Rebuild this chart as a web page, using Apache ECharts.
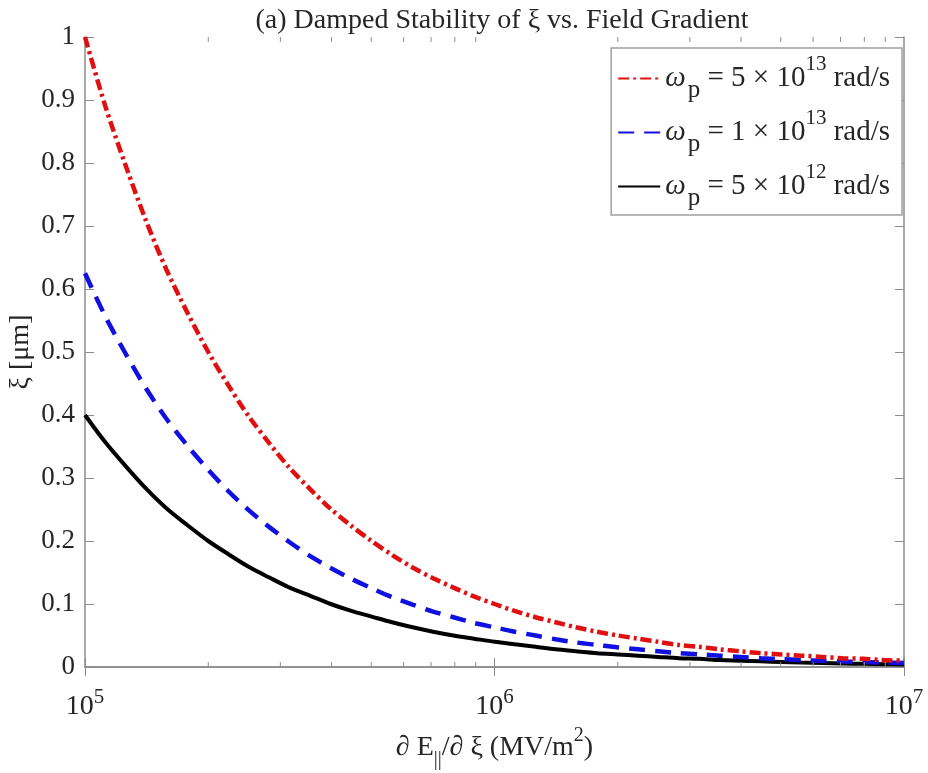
<!DOCTYPE html>
<html><head><meta charset="utf-8">
<script src="https://cdn.jsdelivr.net/npm/echarts@6/dist/echarts.min.js"></script>
<style>html,body{margin:0;padding:0;background:#fff}#c{width:928px;height:773px}</style>
</head><body><div id="c"></div>
<script>
// x samples (field gradient, MV/m^2)
const xVals = [1.0e5,1.12e5,1.26e5,1.41e5,1.58e5,1.78e5,2.0e5,2.24e5,2.51e5,2.82e5,3.16e5,3.55e5,3.98e5,4.47e5,5.01e5,5.62e5,6.31e5,7.08e5,7.94e5,8.91e5,
               1.0e6,1.12e6,1.26e6,1.41e6,1.58e6,1.78e6,2.0e6,2.24e6,2.51e6,2.82e6,3.16e6,3.55e6,3.98e6,4.47e6,5.01e6,5.62e6,6.31e6,7.08e6,7.94e6,8.91e6,1.0e7];
// xi [um]
const red   = [1.0,0.891,0.794,0.708,0.631,0.562,0.50,0.447,0.398,0.355,0.316,0.282,0.251,0.224,0.200,0.178,0.158,0.141,0.126,0.112,
               0.100,0.089,0.079,0.071,0.063,0.056,0.050,0.045,0.040,0.035,0.032,0.028,0.025,0.022,0.020,0.018,0.016,0.014,0.013,0.011,0.010];
const blue  = [0.625,0.557,0.496,0.442,0.394,0.351,0.313,0.279,0.249,0.222,0.198,0.176,0.157,0.140,0.125,0.111,0.099,0.088,0.079,0.070,
               0.063,0.056,0.050,0.044,0.039,0.035,0.031,0.028,0.025,0.022,0.020,0.018,0.016,0.014,0.0125,0.011,0.0099,0.0088,0.0079,0.0070,0.0063];
const black = [0.40,0.357,0.318,0.283,0.252,0.225,0.20,0.179,0.159,0.142,0.126,0.113,0.100,0.089,0.080,0.071,0.063,0.056,0.050,0.045,
               0.040,0.036,0.032,0.028,0.025,0.022,0.020,0.018,0.016,0.014,0.013,0.011,0.010,0.009,0.008,0.007,0.0063,0.0056,0.005,0.0045,0.004];
const legendExp = ['5|13','1|13','5|12'];
const minorTickVals = [2e5,3e5,4e5,5e5,6e5,7e5,8e5,9e5,2e6,3e6,4e6,5e6,6e6,7e6,8e6,9e6];

const FONT = 'Liberation Serif';
const TXT = '#262626';
const AX = '#8c8c8c';
const zip = (a) => xVals.map((x,i)=>[x,a[i]]);

const chart = echarts.init(document.getElementById('c'));
const legendRich = {
  w:{fontFamily:FONT,fontSize:29,fontStyle:'italic',color:TXT},
  p:{fontFamily:FONT,fontSize:25,color:TXT,verticalAlign:'bottom',padding:[24,0,0,2]},
  t:{fontFamily:FONT,fontSize:29,color:TXT},
  s:{fontFamily:FONT,fontSize:21,color:TXT,verticalAlign:'top',padding:[0,0,18,0]}
};
function legendText(i){
  const [m,e] = legendExp[i].split('|');
  return '{w|ω}{p|p}{t| = '+m+' × 10}{s|'+e+'}{t| rad/s}';
}
chart.setOption({
  animation:false,
  title:{text:'(a) Damped Stability of ξ vs. Field Gradient',left:497,top:2,textAlign:'center',
    textStyle:{fontFamily:FONT,fontSize:28,fontWeight:'normal',color:TXT}},
  grid:{left:85,right:24,top:37,bottom:106,containLabel:false,outerBoundsMode:'none'},
  legend:{
    data:['s0','s1','s2'],
    right:26, top:48, orient:'vertical', itemWidth:42, itemHeight:14, itemGap:5,
    backgroundColor:'#fff', borderColor:'#a0a0a0', borderWidth:1.5, borderRadius:0,
    padding:[6,12,4,6],
    itemStyle:{opacity:0},
    formatter:(n)=>legendText(+n.slice(1)),
    textStyle:{rich:legendRich,fontFamily:FONT,fontSize:29,color:TXT}
  },
  xAxis:[{
    type:'log', logBase:10, min:1e5, max:1e7, position:'bottom',
    name:'{d|∂}{t| E}{sub|||}{t|/∂ ξ (MV/m}{sup|2}{t|)}', nameLocation:'middle', nameGap:58,
    nameTextStyle:{rich:{
      d:{fontFamily:FONT,fontSize:28,color:TXT},
      t:{fontFamily:FONT,fontSize:28,color:TXT},
      sub:{fontFamily:FONT,fontSize:20,color:TXT,verticalAlign:'bottom',padding:[24,0,0,0]},
      sup:{fontFamily:FONT,fontSize:20,color:TXT,verticalAlign:'top',padding:[0,0,14,0]}
    }},
    axisLine:{lineStyle:{color:AX,width:1.5}},
    axisTick:{inside:true,length:9,lineStyle:{color:AX}},
    splitLine:{show:false},
    axisLabel:{margin:20,formatter:(v)=>'{b|10}{e|'+Math.round(Math.log10(v))+'}',
      rich:{b:{fontFamily:FONT,fontSize:28,color:TXT},
            e:{fontFamily:FONT,fontSize:21,color:TXT,verticalAlign:'top',padding:[0,0,18,0]}}}
  },{
    type:'log', logBase:10, min:1e5, max:1e7, position:'top',
    axisLine:{lineStyle:{color:AX,width:1.5}},
    axisTick:{inside:true,length:9,lineStyle:{color:AX}},
    axisLabel:{show:false}, splitLine:{show:false}
  }],
  yAxis:[{
    type:'value', min:0, max:1, interval:0.1, position:'left',
    name:'ξ [μm]', nameLocation:'middle', nameGap:50, nameRotate:90, nameMoveOverlap:false,
    nameTextStyle:{fontFamily:FONT,fontSize:28,color:TXT},
    axisLine:{show:true,lineStyle:{color:AX,width:1.5}},
    axisTick:{show:true,inside:true,length:9,lineStyle:{color:AX}},
    splitLine:{show:false},
    axisLabel:{margin:10,fontFamily:FONT,fontSize:27,color:TXT}
  },{
    type:'value', min:0, max:1, interval:0.1, position:'right',
    axisLine:{show:true,lineStyle:{color:AX,width:1.5}},
    axisTick:{show:true,inside:true,length:9,lineStyle:{color:AX}},
    axisLabel:{show:false}, splitLine:{show:false}
  }],
  series:[
    {name:'s0',type:'line',data:zip(red),smooth:0.3,symbol:'none',z:4,
      lineStyle:{color:'#e01010',width:4.5,type:[11,4,3,4]},itemStyle:{color:'#e01010'}},
    {name:'s1',type:'line',data:zip(blue),smooth:0.3,symbol:'none',z:3,
      lineStyle:{color:'#1010e0',width:4.5,type:[16,10]},itemStyle:{color:'#1010e0'}},
    {name:'s2',type:'line',data:zip(black),smooth:0.3,symbol:'none',z:2,
      lineStyle:{color:'#000',width:4,type:'solid'},itemStyle:{color:'#000'}},
    {name:'minor',type:'custom',silent:true,clip:false,z:5,
      data:minorTickVals.map(v=>[v,0]),
      renderItem:(params,api)=>{
        const v = api.value(0);
        const b = api.coord([v,0]); const t = api.coord([v,1]);
        const st = {stroke:AX,lineWidth:1};
        return {type:'group',children:[
          {type:'line',shape:{x1:b[0],y1:b[1],x2:b[0],y2:b[1]-5},style:st},
          {type:'line',shape:{x1:t[0],y1:t[1],x2:t[0],y2:t[1]+5},style:st}
        ]};
      }}
  ]
});
</script></body></html>
